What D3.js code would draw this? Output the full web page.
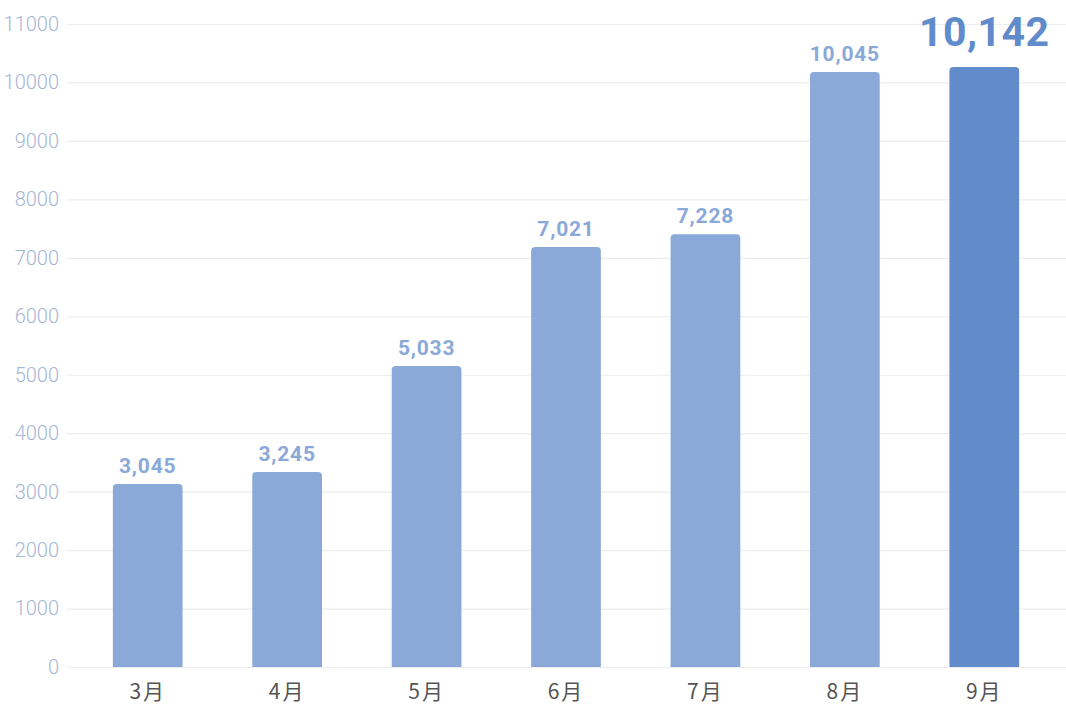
<!DOCTYPE html>
<html>
<head>
<meta charset="utf-8">
<script src="https://cdn.jsdelivr.net/npm/d3@7"></script>
<style>
  body { margin: 0; background: #fff; }
  #chart { width: 1066px; height: 715px; }
</style>
</head>
<body>
<div id="chart"></div>
<script>
var width = 1066, height = 715;

// data
var months = ["3月", "4月", "5月", "6月", "7月", "8月", "9月"];
var barValues = [3130, 3335, 5150, 7185, 7405, 10180, 10265];
var labelValues = [3045, 3245, 5033, 7021, 7228, 10045, 10142];
var yTicks = [0, 1000, 2000, 3000, 4000, 5000, 6000, 7000, 8000, 9000, 10000, 11000];

var margin = {top: 24, right: 12, bottom: 48, left: 78};

var barColor = "#8aa9d8",
    lastColor = "#628bcc";

var svg = d3.select("#chart")
  .append("svg")
  .attr("width", width)
  .attr("height", height)
  .style("display", "block");

var xScale = d3.scaleBand()
    .domain(months)
    .range([margin.left, width - margin.right])
    .paddingInner(0.5)
    .paddingOuter(0.25);

var yScale = d3.scaleLinear()
    .domain([0, 11000])
    .range([height - margin.bottom, margin.top]);

// grid + y labels
var yAxis = svg.append("g")
    .attr("transform", "translate(67,0)")
    .call(d3.axisLeft(yScale)
      .tickValues(yTicks)
      .tickFormat(d3.format("d"))
      .tickSize(-(width - 67))
      .tickPadding(8))
    .call(g => g.select(".domain").remove());

yAxis.selectAll(".tick line")
    .style("stroke", "#ebedf0")
    .style("stroke-width", 1.2);

yAxis.selectAll(".tick text")
    .style("fill", "#a5b6d5")
    .style("font-family", "Roboto, 'Noto Sans', sans-serif")
    .style("font-size", "20px")
    .style("font-weight", 300);

// bars with rounded top corners
function barPath(x, y, w, h, r) {
  return "M" + x + "," + (y + h) +
    "V" + (y + r) +
    "Q" + x + "," + y + " " + (x + r) + "," + y +
    "H" + (x + w - r) +
    "Q" + (x + w) + "," + y + " " + (x + w) + "," + (y + r) +
    "V" + (y + h) + "Z";
}

var last = months.length - 1;

svg.append("g")
  .selectAll("path")
  .data(barValues)
  .enter()
  .append("path")
  .attr("d", function(d, i) {
    var x = xScale(months[i]);
    var y = yScale(d);
    return barPath(x, y, xScale.bandwidth(), yScale(0) - y, 4);
  })
  .style("fill", function(d, i) { return i == last ? lastColor : barColor; });

// value labels
var fmt = d3.format(",");

svg.append("g")
  .selectAll("text")
  .data(labelValues)
  .enter()
  .append("text")
  .attr("x", function(d, i) { return xScale(months[i]) + xScale.bandwidth() / 2; })
  .attr("y", function(d, i) { return yScale(barValues[i]) - (i == last ? 21 : 11); })
  .attr("text-anchor", "middle")
  .style("font-family", "Roboto, 'Noto Sans', sans-serif")
  .style("font-weight", "bold")
  .style("font-size", function(d, i) { return i == last ? "41px" : "21px"; })
  .style("letter-spacing", function(d, i) { return i == last ? "0.5px" : "0.8px"; })
  .style("fill", function(d, i) { return i == last ? lastColor : barColor; })
  .text(function(d) { return fmt(d); });

// x labels
svg.append("g")
  .selectAll("text")
  .data(months)
  .enter()
  .append("text")
  .attr("x", function(d) { return xScale(d) + xScale.bandwidth() / 2; })
  .attr("y", yScale(0) + 32)
  .attr("text-anchor", "middle")
  .style("font-family", "'Noto Sans CJK SC', 'Noto Sans', sans-serif")
  .style("font-size", "21px")
  .style("letter-spacing", "2px")
  .style("fill", "#555")
  .text(function(d) { return d; });
</script>
</body>
</html>
